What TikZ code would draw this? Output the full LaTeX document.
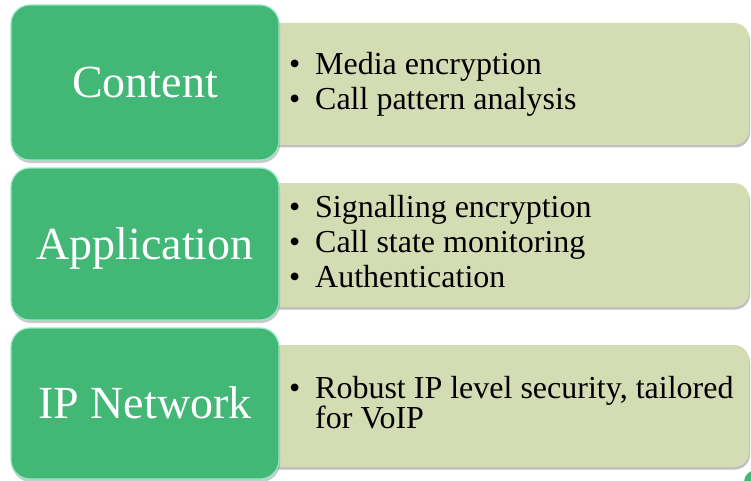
\documentclass[tikz,border=0pt]{standalone}
\usepackage{fontspec}
\setmainfont{Liberation Serif}
\usetikzlibrary{shadows}
\definecolor{layergreen}{RGB}{66,183,118}
\definecolor{layerrim}{RGB}{150,232,196}
\definecolor{notebeige}{RGB}{212,220,180}
\newcommand\bul{\makebox[26pt][l]{\textbullet}}
\begin{document}
\begin{tikzpicture}[x=1pt,y=-1pt,
  layerbox/.style={fill=layergreen, draw=layerrim, line width=1.2pt,
    rounded corners=19pt, inner sep=0pt, text=white,
    font=\fontsize{46}{50}\selectfont, text height=30pt, text depth=0pt,
    drop shadow={shadow xshift=1pt, shadow yshift=-3pt, opacity=0.35, fill=black!60}},
  notebox/.style={fill=notebeige, draw=none, rounded corners=15pt, inner sep=0pt,
    drop shadow={shadow xshift=1pt, shadow yshift=-2.5pt, opacity=0.45, fill=black!55}},
  bulletline/.style={anchor=base west, inner sep=0pt, text=black,
    font=\fontsize{32}{35}\selectfont}
]
\useasboundingbox (0,0) rectangle (751,481);

% partly visible shape in the lower right corner
\begin{scope}
  \clip (0,0) rectangle (751,481);
  \fill[layergreen, rounded corners=12pt] (744,470) rectangle (820,540);
\end{scope}

% detail panels (behind the layer boxes)
\node[notebox, minimum width=500pt, minimum height=122pt] (n1) at (499,84) {};
\node[notebox, minimum width=500pt, minimum height=124pt] (n2) at (499,245) {};
\node[notebox, minimum width=500pt, minimum height=122pt] (n3) at (499,406) {};

% layer boxes
\node[layerbox, minimum width=268pt, minimum height=155pt] (content) at (145,82.5) {Content};
\node[layerbox, minimum width=268pt, minimum height=152pt] (application) at (145,244) {Application};
\node[layerbox, minimum width=268pt, minimum height=151pt] (ipnet) at (145,403.5) {IP Network};

% bullet text
\node[bulletline] (c1) at (289,75) {\bul Media encryption};
\node[bulletline] (c2) at (289,110) {\bul Call pattern analysis};

\node[bulletline] (a1) at (289,217) {\bul Signalling encryption};
\node[bulletline] (a2) at (289,252) {\bul Call state monitoring};
\node[bulletline] (a3) at (289,287) {\bul Authentication};

\node[bulletline] (i1) at (289,398) {\bul Robust IP level security, tailored};
\node[bulletline] (i2) at (315,428) {for VoIP};
\end{tikzpicture}
\end{document}
